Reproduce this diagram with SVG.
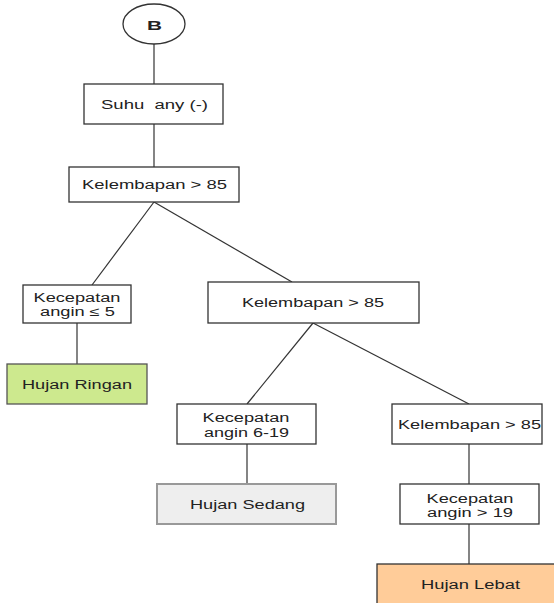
<svg xmlns="http://www.w3.org/2000/svg" width="554" height="603" viewBox="0 0 554 603">
<style>
rect{stroke:#333;stroke-width:1.3;fill:#fff}
ellipse{stroke:#333;stroke-width:1.3;fill:#fff}
text{font-family:"Liberation Sans",Arial,sans-serif;font-size:12.5px;fill:#222;text-anchor:middle}
#edges line{stroke:#333;stroke-width:1.2}
</style>
<rect x="0" y="0" width="554" height="603" style="fill:#fff;stroke:none"/>
<g id="edges">
<line x1="154" y1="44" x2="154" y2="84"/>
<line x1="154" y1="124" x2="154" y2="167"/>
<line x1="154" y1="202" x2="92" y2="285"/>
<line x1="154" y1="202" x2="292" y2="282"/>
<line x1="77" y1="323" x2="77" y2="364"/>
<line x1="313" y1="323" x2="247" y2="404"/>
<line x1="313" y1="323" x2="469" y2="404"/>
<line x1="247" y1="444" x2="247" y2="484"/>
<line x1="469" y1="444" x2="469" y2="484"/>
<line x1="469" y1="524" x2="469" y2="564"/>
</g>
<g id="B">
<ellipse cx="154" cy="24" rx="31" ry="20"/>
<text x="154.5" y="30" style="font-weight:bold;font-size:13px" textLength="15" lengthAdjust="spacingAndGlyphs">B</text>
</g>
<g id="suhu">
<rect x="84" y="84" width="139" height="40"/>
<text x="154.5" y="108.5" textLength="107" lengthAdjust="spacingAndGlyphs" xml:space="preserve">Suhu  any (-)</text>
</g>
<g id="kelembapan1">
<rect x="69" y="167" width="170" height="35"/>
<text x="154.5" y="189" textLength="145" lengthAdjust="spacingAndGlyphs">Kelembapan &gt; 85</text>
</g>
<g id="kecepatan1">
<rect x="23" y="285" width="108" height="38"/>
<text x="77" y="302" textLength="87" lengthAdjust="spacingAndGlyphs">Kecepatan</text>
<text x="77.5" y="316" textLength="75" lengthAdjust="spacingAndGlyphs">angin ≤ 5</text>
</g>
<g id="ringan">
<rect x="7" y="364" width="140" height="40" style="fill:#cde98e;stroke:#555"/>
<text x="77" y="389" textLength="110" lengthAdjust="spacingAndGlyphs">Hujan Ringan</text>
</g>
<g id="kelembapan2">
<rect x="208" y="282" width="211" height="41"/>
<text x="313" y="307" textLength="142" lengthAdjust="spacingAndGlyphs">Kelembapan &gt; 85</text>
</g>
<g id="kecepatan2">
<rect x="177" y="404" width="139" height="40"/>
<text x="246" y="422" textLength="87" lengthAdjust="spacingAndGlyphs">Kecepatan</text>
<text x="246.5" y="436.5" textLength="85" lengthAdjust="spacingAndGlyphs">angin 6-19</text>
</g>
<g id="sedang">
<rect x="157" y="484" width="179" height="40" style="fill:#eeeeee;stroke:#999;stroke-width:2"/>
<text x="247.5" y="509" textLength="115" lengthAdjust="spacingAndGlyphs">Hujan Sedang</text>
</g>
<g id="kelembapan3">
<rect x="392" y="404" width="150" height="40"/>
<text x="469.5" y="429" textLength="143" lengthAdjust="spacingAndGlyphs">Kelembapan &gt; 85</text>
</g>
<g id="kecepatan3">
<rect x="400" y="484" width="139" height="40"/>
<text x="470" y="503" textLength="87" lengthAdjust="spacingAndGlyphs">Kecepatan</text>
<text x="470" y="517" textLength="86" lengthAdjust="spacingAndGlyphs">angin &gt; 19</text>
</g>
<g id="lebat">
<rect x="377" y="564" width="180" height="42" style="fill:#ffcc99"/>
<text x="470.5" y="589" textLength="99" lengthAdjust="spacingAndGlyphs">Hujan Lebat</text>
</g>
</svg>
